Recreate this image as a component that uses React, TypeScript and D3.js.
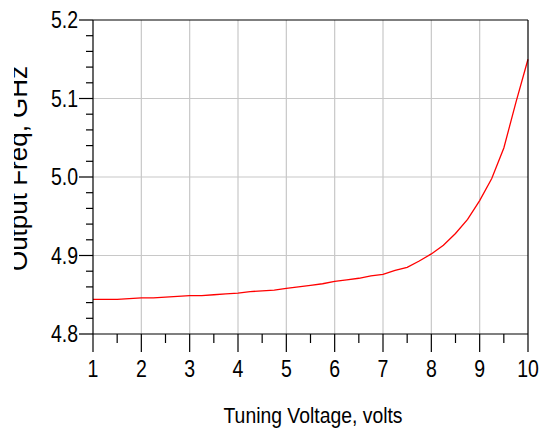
import React from "react";
import * as d3 from "d3";

const voltages = [1, 1.25, 1.5, 1.75, 2, 2.25, 2.5, 2.75, 3, 3.25, 3.5, 3.75, 4, 4.25, 4.5, 4.75, 5, 5.25, 5.5, 5.75, 6, 6.25, 6.5, 6.75, 7, 7.25, 7.5, 7.75, 8, 8.25, 8.5, 8.75, 9, 9.25, 9.5, 9.75, 10];
const freqs = [4.844, 4.844, 4.844, 4.845, 4.846, 4.846, 4.847, 4.848, 4.849, 4.849, 4.85, 4.851, 4.852, 4.854, 4.855, 4.856, 4.858, 4.86, 4.862, 4.864, 4.867, 4.869, 4.871, 4.874, 4.876, 4.881, 4.885, 4.893, 4.902, 4.913, 4.928, 4.946, 4.97, 4.998, 5.037, 5.095, 5.15];
const xTicks = [1, 2, 3, 4, 5, 6, 7, 8, 9, 10];
const xMinor = [1.5, 2.5, 3.5, 4.5, 5.5, 6.5, 7.5, 8.5, 9.5];
const yTicks = [4.8, 4.9, 5.0, 5.1, 5.2];
const yMinor = [4.82, 4.84, 4.86, 4.88, 4.92, 4.94, 4.96, 4.98, 5.02, 5.04, 5.06, 5.08, 5.12, 5.14, 5.16, 5.18];
const xTitle = "Tuning Voltage, volts";
const yTitle = "Output Freq, GHz";

const W = 551, H = 429;
const L = 93, R = 528, T = 20, B = 334;
const FONT = "'Liberation Sans', Arial, sans-serif";
const SX = 0.83;

export default function App() {
  const x = d3.scaleLinear().domain([1, 10]).range([L, R]);
  const y = d3.scaleLinear().domain([4.8, 5.2]).range([B, T]);
  const pts = voltages.map((v, i) => [v, freqs[i]] as [number, number]);
  const line = d3.line<[number, number]>().x(d => x(d[0])).y(d => y(d[1]));
  return (
    <svg width={W} height={H} style={{ position: "absolute", left: 0, top: 0, background: "#fff" }}>
      <defs>
        <clipPath id="ylab"><rect x={14} y={0} width={40} height={H} /></clipPath>
      </defs>
      <rect x={0} y={0} width={W} height={H} fill="#fff" />
      {xTicks.filter(t => t > 1 && t < 10).map(t => (
        <line key={"gx" + t} x1={x(t)} x2={x(t)} y1={T} y2={B} stroke="#c8c8c8" strokeWidth={1.2} />
      ))}
      {yTicks.filter(t => t > 4.8 && t < 5.2).map(t => (
        <line key={"gy" + t} x1={L} x2={R} y1={y(t)} y2={y(t)} stroke="#c8c8c8" strokeWidth={1.2} />
      ))}
      <path d={line(pts) || ""} fill="none" stroke="#ff0000" strokeWidth={1.3} />
      <line x1={L} x2={R} y1={T} y2={T} stroke="#000" strokeWidth={1.2} />
      <line x1={R} x2={R} y1={T} y2={B} stroke="#000" strokeWidth={1.2} />
      <line x1={L} x2={R} y1={B} y2={B} stroke="#000" strokeWidth={1.2} />
      <line x1={L} x2={L} y1={T} y2={B} stroke="#000" strokeWidth={1.2} />
      {yTicks.map(t => (
        <line key={"ty" + t} x1={L - 14} x2={L} y1={y(t)} y2={y(t)} stroke="#000" strokeWidth={1.2} />
      ))}
      {yMinor.map(t => (
        <line key={"my" + t} x1={L - 7} x2={L} y1={y(t)} y2={y(t)} stroke="#000" strokeWidth={1.2} />
      ))}
      {xTicks.map(t => (
        <line key={"tx" + t} x1={x(t)} x2={x(t)} y1={B} y2={B + 18} stroke="#000" strokeWidth={1.2} />
      ))}
      {xMinor.map(t => (
        <line key={"mx" + t} x1={x(t)} x2={x(t)} y1={B} y2={B + 9} stroke="#000" strokeWidth={1.2} />
      ))}
      {yTicks.map(t => (
        <text key={"ly" + t} transform={`translate(${L - 15},${y(t)}) scale(${SX},1)`} dy="0.36em" textAnchor="end" fontFamily={FONT} fontSize={23.5} fill="#000">
          {t.toFixed(1)}
        </text>
      ))}
      {xTicks.map(t => (
        <text key={"lx" + t} transform={`translate(${x(t)},377) scale(${SX},1)`} textAnchor="middle" fontFamily={FONT} fontSize={23.5} fill="#000">
          {t}
        </text>
      ))}
      <text transform="translate(313,423) scale(0.88,1)" textAnchor="middle" fontFamily={FONT} fontSize={22} fill="#000">{xTitle}</text>
      <g clipPath="url(#ylab)">
        <text transform="translate(27,168.5) rotate(-90)" textAnchor="middle" fontFamily={FONT} fontSize={26} fill="#000">{yTitle}</text>
      </g>
    </svg>
  );
}
